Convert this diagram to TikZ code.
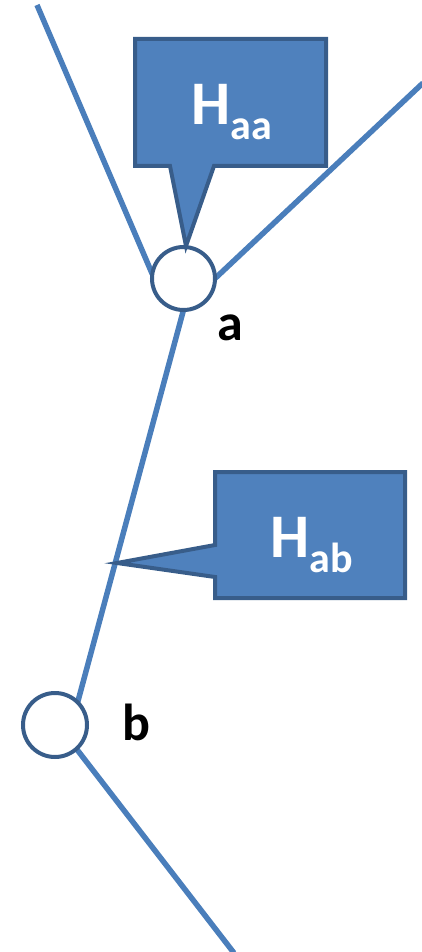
\documentclass[tikz,border=0pt]{standalone}
\usepackage{fontspec}
\setmainfont{Carlito}
\usetikzlibrary{backgrounds}
\definecolor{linkblue}{HTML}{4A7EBB}
\definecolor{boxfill}{HTML}{4F81BD}
\definecolor{boxedge}{HTML}{385D8A}
\tikzset{
  vertex/.style={circle, draw=boxedge, line width=4pt, fill=white, inner sep=0pt, outer sep=0pt},
  link/.style={draw=linkblue, line width=5.5pt},
  callout/.style={fill=boxfill, draw=boxedge, line width=4pt, line join=miter, miter limit=20},
  calltext/.style={text=white, font=\bfseries, anchor=base, inner sep=0pt},
  vlabel/.style={font=\bfseries\fontsize{52}{52}\selectfont, anchor=base, inner sep=0pt}
}
\begin{document}
\begin{tikzpicture}[x=1pt, y=-1pt]
\useasboundingbox (0,0) rectangle (421,952);
\node[vertex, minimum size=63pt] (a) at (183.5,278.5) {};
\node[vertex, minimum size=64pt] (b) at (55,725) {};
\coordinate (tl) at (37,5);
\coordinate (tr) at (423,83);
\coordinate (bot) at (234,953);
\begin{scope}[on background layer]
\draw[link] (tl) -- (a.172);
\draw[link] (tr) -- (a.0);
\draw[link] (a.270) -- (b.45);
\draw[link] (b.-48) -- (bot);
\end{scope}
% callout H_aa
\draw[callout] (135,39) -- (326,39) -- (326,166) -- (214,166) -- (186,246) -- (170,166) -- (135,166) -- cycle;
\node[calltext] (Haa) at (231.5,125) {\fontsize{62}{62}\selectfont H\raisebox{-15pt}{\fontsize{42}{42}\selectfont aa}};
% callout H_ab
\draw[callout] (215,472) -- (405,472) -- (405,598) -- (215,598) -- (215,577) -- (117,563) -- (215,545) -- cycle;
\node[calltext] (Hab) at (312,557) {\fontsize{62}{62}\selectfont H\raisebox{-15pt}{\fontsize{42}{42}\selectfont ab}};
\node[vlabel] (la) at (230.5,340) {a};
\node[vlabel] (lb) at (136.5,740) {b};
\end{tikzpicture}
\end{document}
